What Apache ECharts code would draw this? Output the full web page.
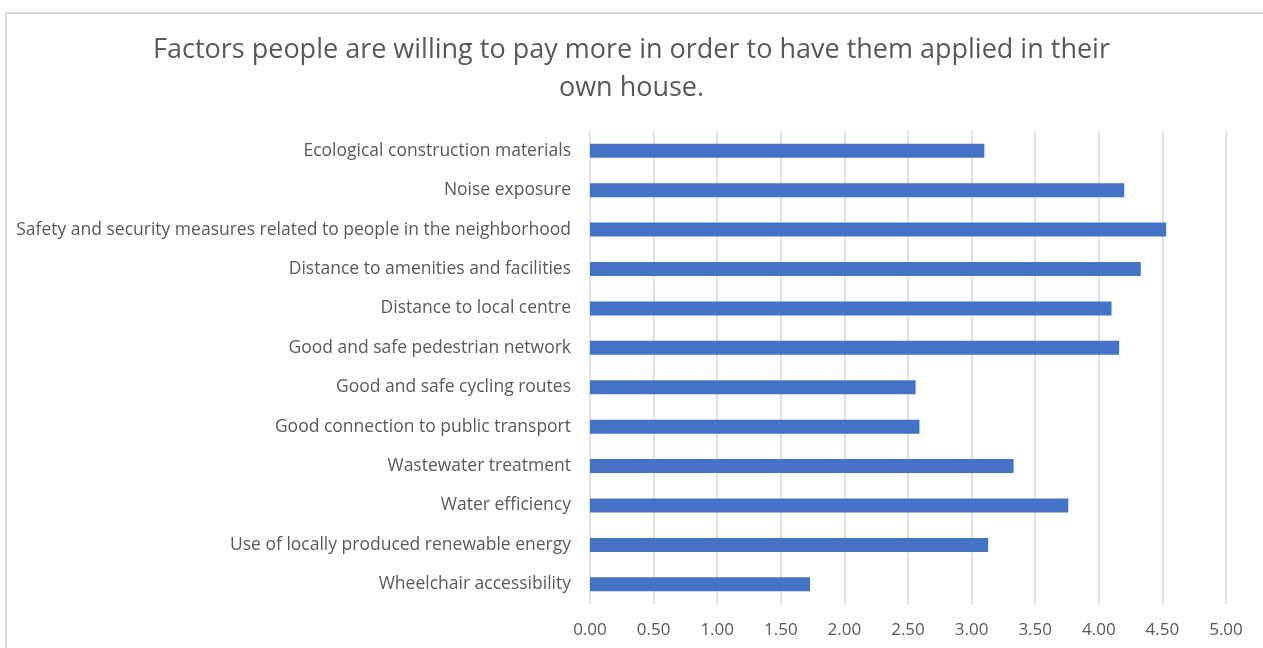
<!DOCTYPE html>
<html>
<head>
<meta charset="utf-8">
<script src="https://cdn.jsdelivr.net/npm/echarts@6/dist/echarts.min.js"></script>
<style>
html,body{margin:0;padding:0;background:#fff;overflow:hidden;}
#frame{position:absolute;left:5px;top:12px;width:1270px;height:660px;border:2px solid #d9d9d9;box-sizing:border-box;}
#main{position:absolute;left:0;top:0;width:1263px;height:648px;}
</style>
</head>
<body>
<div id="frame"></div>
<div id="main"></div>
<script>
const titleText = "Factors people are willing to pay more in order to have them applied in their\nown house.";
const categories = [
  "Ecological construction materials",
  "Noise exposure",
  "Safety and security measures related to people in the neighborhood",
  "Distance to amenities and facilities",
  "Distance to local centre",
  "Good and safe pedestrian network",
  "Good and safe cycling routes",
  "Good connection to public transport",
  "Wastewater treatment",
  "Water efficiency",
  "Use of locally produced renewable energy",
  "Wheelchair accessibility"
];
const values = [3.10, 4.20, 4.53, 4.33, 4.10, 4.16, 2.56, 2.59, 3.33, 3.76, 3.13, 1.73];

const chart = echarts.init(document.getElementById('main'));
chart.setOption({
  animation: false,
  title: {
    text: titleText,
    left: 'center',
    top: 26,
    textStyle: {fontFamily: 'Open Sans', fontSize: 27, fontWeight: 'normal', color: '#595959', lineHeight: 38}
  },
  grid: {left: 590, right: 37, top: 131, bottom: 44, containLabel: false},
  xAxis: {
    type: 'value', min: 0, max: 5, interval: 0.5,
    axisLine: {show: false}, axisTick: {show: false},
    splitLine: {show: true, lineStyle: {color: '#d9d9d9', width: 1.5}},
    axisLabel: {formatter: v => v.toFixed(2), color: '#595959', fontFamily: 'Open Sans', fontSize: 17, margin: 18}
  },
  yAxis: {
    type: 'category', data: categories, inverse: true,
    axisLine: {show: false}, axisTick: {show: false},
    axisLabel: {color: '#595959', fontFamily: 'Open Sans', fontSize: 17.5, margin: 19}
  },
  series: [{
    type: 'bar', data: values, barWidth: 14,
    itemStyle: {color: '#4472c4'}
  }]
});
</script>
</body>
</html>
